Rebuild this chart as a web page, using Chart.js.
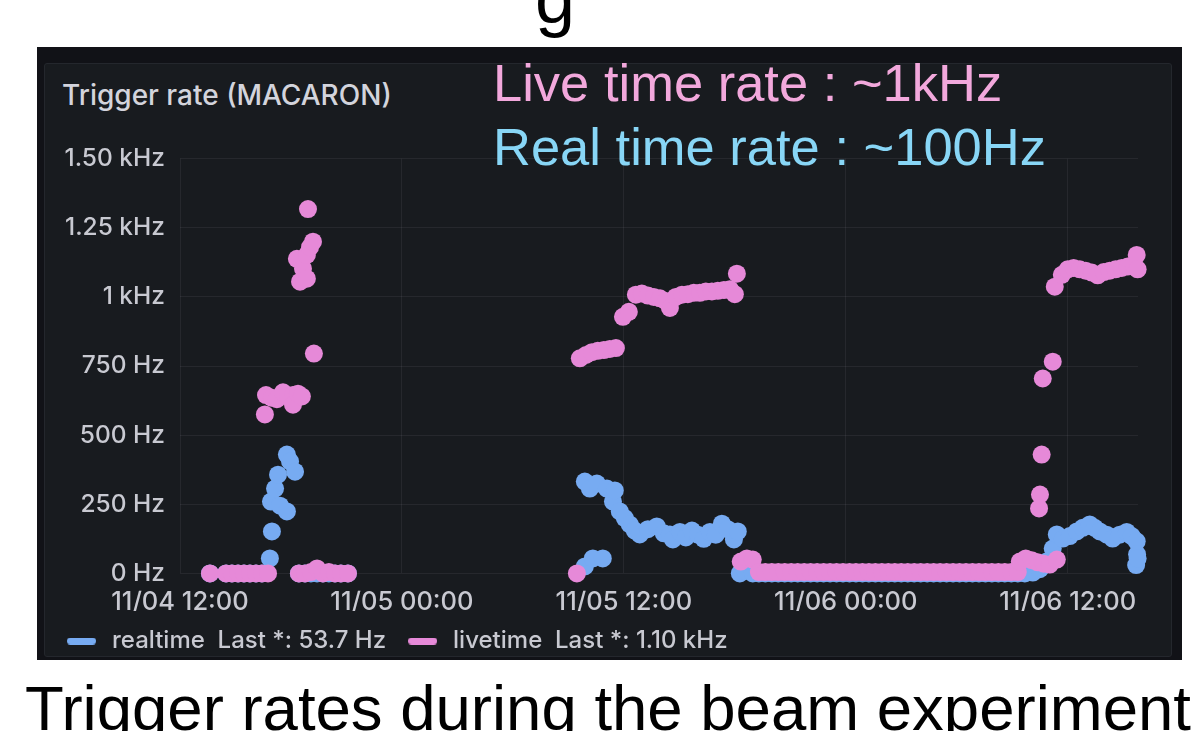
<!DOCTYPE html>
<html>
<head>
<meta charset="utf-8">
<script src="https://cdn.jsdelivr.net/npm/chart.js@4.4.0/dist/chart.umd.min.js"></script>
<style>
  html, body { margin: 0; padding: 0; background: #fff; }
  body { position: relative; width: 1191px; height: 731px; overflow: hidden; font-family: "Liberation Sans", Arial, sans-serif; }
  #top-g { position: absolute; left: 535px; top: -38px; font-size: 72px; line-height: 72px; color: #000; }
  #outer { position: absolute; left: 37px; top: 47px; width: 1145px; height: 613px; background: #111217; }
  #panel { position: absolute; left: 44px; top: 63px; width: 1128px; height: 594px; background: #181b1f;
           border: 1px solid #24272d; box-sizing: border-box; border-radius: 3px; }
  #panel-title { position: absolute; left: 62px; top: 80px; font-family: Inter, sans-serif; font-weight: 500;
                 font-size: 28px; line-height: 30px; color: #d3d4dc; }
  .note { position: absolute; left: 493px; font-size: 52.5px; line-height: 52.5px; white-space: nowrap; }
  #note-live { top: 57px; color: #f2a8dc; }
  #note-real { top: 121px; color: #88d6f6; }
  #caption { position: absolute; left: 25px; top: 677px; font-size: 63.5px; line-height: 63px; color: #000; white-space: nowrap; }
  #wrap { position: absolute; left: 40px; top: 129px; width: 1132px; height: 534px; }
</style>
</head>
<body>
<div id="top-g">g</div>
<div id="outer"></div>
<div id="panel"></div>
<div id="panel-title">Trigger rate (MACARON)</div>
<div id="wrap"><canvas id="rateChart"></canvas></div>
<div class="note" id="note-live">Live time rate : ~1kHz</div>
<div class="note" id="note-real">Real time rate : ~100Hz</div>
<div id="caption">Trigger rates during the beam experiment</div>

<script>
// hours counted from 11/04 00:00
const tickHours = [12, 24, 36, 48, 60];
const tickLabels = ['11/04 12:00', '11/05 00:00', '11/05 12:00', '11/06 00:00', '11/06 12:00'];
const rateTicks = [0, 250, 500, 750, 1000, 1250, 1500];

// livetime trigger rate (Hz)
const liveHours = [
  13.62, 14.49, 14.81, 15.14, 15.46, 15.78, 16.11, 16.43, 16.76,
  16.59, 16.65, 16.97, 17.24, 17.57, 17.84, 18.11, 18.11, 18.38, 18.59,
  18.32, 18.49, 18.65, 18.86, 18.86, 19.03, 19.19, 18.92, 19.24,
  18.43, 18.76, 19.08, 19.41, 19.73, 20.05, 20.38, 20.70, 21.08,
  33.46,
  33.62, 33.95, 34.27, 34.59, 34.92, 35.24, 35.57,
  35.95, 36.27,
  36.65, 36.97, 37.30, 37.62, 37.95, 38.27, 38.49, 38.81, 39.14, 39.46, 39.78,
  40.11, 40.43, 40.76, 41.08, 41.41, 41.73, 42.00, 42.11,
  42.32, 42.65, 42.97,
  43.3, 43.65, 44.0, 44.35, 44.7, 45.05, 45.4, 45.75, 46.1, 46.45,
  46.8, 47.15, 47.5, 47.85, 48.2, 48.55, 48.9, 49.25, 49.6, 49.95,
  50.3, 50.65, 51.0, 51.35, 51.7, 52.05, 52.4, 52.75, 53.1, 53.45,
  53.8, 54.15, 54.5, 54.85, 55.2, 55.55, 55.9, 56.25, 56.6, 56.95, 57.3,
  57.41, 57.73, 58.05, 58.38, 58.70, 59.03, 59.41,
  58.45, 58.50, 58.59, 58.65, 59.19, 59.30, 59.68, 60.00, 60.32, 60.65, 60.97,
  61.30, 61.62, 61.95, 62.27, 62.59, 62.92, 63.24, 63.57, 63.73, 63.78
];
const liveRates = [
  0, 0, 0, 0, 0, 0, 0, 0, 0,
  575, 645, 635, 630, 655, 640, 645, 610, 650, 640,
  1138, 1055, 1102, 1066, 1152, 1180, 1200, 1318, 795,
  0, 0, 5, 18, 0, 5, 0, 0, 0,
  0,
  778, 790, 800, 805, 808, 812, 815,
  928, 946,
  1008, 1012, 1005, 1000, 995, 985, 960, 1000, 1008, 1010, 1015,
  1015, 1020, 1020, 1022, 1025, 1028, 1010, 1084,
  43, 54, 50,
  5, 5, 5, 5, 5, 5, 5, 5, 5, 5,
  5, 5, 5, 5, 5, 5, 5, 5, 5, 5,
  5, 5, 5, 5, 5, 5, 5, 5, 5, 5,
  5, 5, 5, 5, 5, 5, 5, 5, 5, 5, 5,
  43, 54, 48, 40, 35, 32, 50,
  235, 285, 430, 705, 766, 1037, 1080, 1100, 1105, 1100, 1095,
  1088, 1078, 1090, 1095, 1100, 1105, 1110, 1115, 1152, 1100
];

// realtime trigger rate (Hz)
const realHours = [
  13.62, 14.49, 14.81, 15.14, 15.46, 15.78, 16.11, 16.43,
  16.86, 16.97, 16.92, 17.14, 17.30, 17.41, 17.78, 17.78, 17.95, 18.22,
  18.43, 18.76, 19.08, 19.41, 19.73, 20.05, 20.38, 20.70, 21.08,
  33.89, 34.32, 34.86,
  33.89, 34.16, 34.54, 35.08, 35.41, 35.51, 35.78, 36.05, 36.32, 36.59, 36.86,
  37.30, 37.78, 38.16, 38.49, 38.65, 39.03, 39.35, 39.68, 40.00, 40.32, 40.65,
  40.97, 41.30, 41.62, 41.95, 42.16, 42.27, 42.54, 42.97,
  43.3, 43.65, 44.0, 44.35, 44.7, 45.05, 45.4, 45.75, 46.1, 46.45,
  46.8, 47.15, 47.5, 47.85, 48.2, 48.55, 48.9, 49.25, 49.6, 49.95,
  50.3, 50.65, 51.0, 51.35, 51.7, 52.05, 52.4, 52.75, 53.1, 53.45,
  53.8, 54.15, 54.5, 54.85, 55.2, 55.55, 55.9, 56.25, 56.6, 56.95, 57.3,
  57.68, 58.11, 58.49, 58.86, 59.19, 59.41, 59.73, 60.11, 60.49, 60.81, 61.19,
  61.46, 61.73, 62.11, 62.43, 62.81, 63.19, 63.46, 63.73, 63.75, 63.70, 63.78
];
const realRates = [
  0, 0, 0, 0, 0, 0, 0, 0,
  54, 152, 260, 307, 357, 245, 224, 430, 405, 368,
  0, 0, 0, 0, 0, 0, 0, 0, 0,
  25, 54, 54,
  332, 307, 325, 307, 260, 300, 224, 200, 177, 155, 141,
  160, 170, 145, 141, 123, 150, 130, 155, 140, 125, 150,
  140, 180, 160, 123, 152, 0, 10, 0,
  0, 0, 0, 0, 0, 0, 0, 0, 0, 0,
  0, 0, 0, 0, 0, 0, 0, 0, 0, 0,
  0, 0, 0, 0, 0, 0, 0, 0, 0, 0,
  0, 0, 0, 0, 0, 0, 0, 0, 0, 0, 0,
  0, 3, 15, 43, 90, 141, 126, 135, 152, 165, 177,
  165, 152, 140, 126, 140, 150, 135, 116, 69, 30, 53.7
];

const LIVE_COLOR = 'rgb(230, 137, 216)';
const REAL_COLOR = 'rgb(119, 171, 242)';
const TEXT_COLOR = '#c8c9d1';
const GRID_COLOR = 'rgba(204, 204, 220, 0.08)';

function toPoints(hours, rates) {
  return hours.map((h, i) => ({ x: h, y: rates[i] }));
}

function formatRate(v) {
  if (v >= 1000) return (v / 1000).toFixed(2) + ' kHz';
  return v.toFixed(1) + ' Hz';
}

function rateTickLabel(v) {
  if (v === 1000) return '1 kHz';
  if (v > 1000) return (v / 1000).toFixed(2) + ' kHz';
  return v + ' Hz';
}

// little rounded bar used as the legend marker
function legendBar(color) {
  const c = document.createElement('canvas');
  c.width = 29;
  c.height = 7;
  const g = c.getContext('2d');
  g.fillStyle = color;
  g.beginPath();
  g.roundRect(0, 0, 29, 7, 3.5);
  g.fill();
  return c;
}

const legendMarks = [legendBar(LIVE_COLOR), legendBar(REAL_COLOR)];

Chart.defaults.font.family = 'Inter, sans-serif';
Chart.defaults.font.weight = 500;
Chart.defaults.color = TEXT_COLOR;

const ctx = document.getElementById('rateChart').getContext('2d');
const chart = new Chart(ctx, {
  type: 'scatter',
  data: {
    datasets: [{
      label: 'livetime',
      data: toPoints(liveHours, liveRates),
      backgroundColor: LIVE_COLOR,
      borderWidth: 0,
      clip: false
    }, {
      label: 'realtime',
      data: toPoints(realHours, realRates),
      backgroundColor: REAL_COLOR,
      borderWidth: 0,
      clip: false
    }]
  },
  options: {
    responsive: true,
    maintainAspectRatio: false,
    animation: false,
    layout: { padding: { top: 0, right: 34, bottom: 0, left: 5 } },
    elements: { point: { pointStyle: 'circle', radius: 9, hoverRadius: 9 } },
    scales: {
      x: {
        type: 'linear',
        min: 12,
        max: 63.8,
        afterBuildTicks: (scale) => { scale.ticks = tickHours.map(v => ({ value: v })); },
        afterFit: (scale) => { scale.height = 37.6; },
        ticks: {
          padding: 14,
          font: { size: 25.5 },
          color: TEXT_COLOR,
          maxRotation: 0,
          callback: (v) => tickLabels[tickHours.indexOf(v)]
        },
        grid: { color: GRID_COLOR, drawTicks: false },
        border: { display: false }
      },
      y: {
        min: 0,
        max: 1500,
        afterBuildTicks: (scale) => { scale.ticks = rateTicks.map(v => ({ value: v })); },
        afterFit: (scale) => { scale.width = 135; },
        ticks: {
          padding: 15,
          font: { size: 24.5 },
          color: TEXT_COLOR,
          callback: (v) => rateTickLabel(v)
        },
        grid: { color: GRID_COLOR, drawTicks: false },
        border: { display: false }
      }
    },
    plugins: {
      tooltip: { enabled: false },
      legend: {
        position: 'bottom',
        align: 'start',
        labels: {
          usePointStyle: true,
          pointStyleWidth: 37,
          padding: 18,
          font: { size: 24 },
          color: TEXT_COLOR,
          sort: (a, b) => b.datasetIndex - a.datasetIndex,
          generateLabels: (c) => c.data.datasets.map((ds, i) => {
            const last = ds.data[ds.data.length - 1].y;
            return {
              text: ds.label + '  Last *: ' + formatRate(last),
              pointStyle: legendMarks[i],
              fillStyle: ds.backgroundColor,
              strokeStyle: ds.backgroundColor,
              lineWidth: 0,
              fontColor: TEXT_COLOR,
              hidden: !c.isDatasetVisible(i),
              datasetIndex: i
            };
          })
        }
      }
    }
  }
});
</script>
</body>
</html>
